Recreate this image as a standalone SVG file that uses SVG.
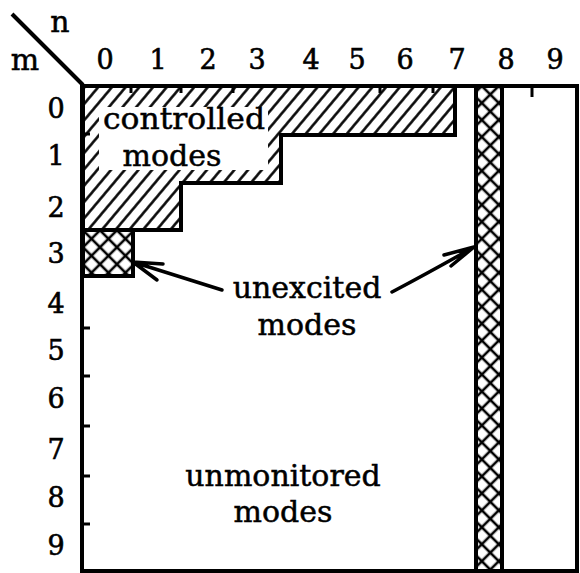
<svg xmlns="http://www.w3.org/2000/svg" width="580" height="573" viewBox="0 0 580 573">
<style>
.lbl{font-family:"DejaVu Serif","Liberation Serif",serif;font-size:30px;fill:#000;stroke:#000;stroke-width:0.5;text-anchor:middle}
.num{font-family:"DejaVu Serif","Liberation Serif",serif;font-size:27px;fill:#000;stroke:#000;stroke-width:0.6;text-anchor:middle}
.ln{stroke:#000;stroke-width:4;fill:none;stroke-linecap:square}
.xh{stroke:#000;stroke-width:4;fill:url(#cross)}
.arw{stroke:#000;stroke-width:3.5;fill:none;stroke-linecap:round}
</style>
<defs>
<pattern id="hatch" width="10.5" height="10.5" patternUnits="userSpaceOnUse" patternTransform="rotate(40)">
<line x1="5.25" y1="0" x2="5.25" y2="10.5" stroke="#000" stroke-width="2.5"/>
</pattern>
<pattern id="cross" width="12" height="12" patternUnits="userSpaceOnUse" patternTransform="translate(83,86) rotate(45)">
<line x1="6" y1="0" x2="6" y2="12" stroke="#000" stroke-width="2.6"/>
<line x1="0" y1="6" x2="12" y2="6" stroke="#000" stroke-width="2.6"/>
</pattern>
</defs>
<rect width="580" height="573" fill="#fff"/>

<g id="axis-labels">
<line x1="12" y1="14" x2="83" y2="85" stroke="#000" stroke-width="4"/>
<text class="lbl" x="60" y="32">n</text>
<text class="lbl" x="25" y="70">m</text>
<text class="num" x="105" y="69">0</text>
<text class="num" x="158" y="69">1</text>
<text class="num" x="208" y="69">2</text>
<text class="num" x="257" y="69">3</text>
<text class="num" x="311" y="69">4</text>
<text class="num" x="357" y="69">5</text>
<text class="num" x="405" y="69">6</text>
<text class="num" x="457" y="69">7</text>
<text class="num" x="506" y="69">8</text>
<text class="num" x="555" y="69">9</text>
<text class="num" x="56" y="118">0</text>
<text class="num" x="56" y="165">1</text>
<text class="num" x="56" y="217">2</text>
<text class="num" x="56" y="263">3</text>
<text class="num" x="56" y="313">4</text>
<text class="num" x="56" y="360">5</text>
<text class="num" x="56" y="408">6</text>
<text class="num" x="56" y="459">7</text>
<text class="num" x="56" y="507">8</text>
<text class="num" x="56" y="555">9</text>
</g>

<g id="controlled-modes">
<path d="M83,86 H455 V135 H281 V183 H181 V230 H83 Z" fill="url(#hatch)"/>
<rect x="99" y="107" width="169" height="63" fill="#fff"/>
<path d="M83,86 H455 V135 H281 V183 H181 V230 H83 Z" class="ln" stroke-linejoin="miter"/>
<text class="lbl" x="184" y="129" textLength="162" lengthAdjust="spacingAndGlyphs">controlled</text>
<text class="lbl" x="172" y="166">modes</text>
</g>

<g id="unexcited-box">
<rect x="83" y="230" width="50" height="46" class="xh"/>
</g>

<g id="unexcited-strip">
<rect x="476" y="86" width="26" height="486" class="xh"/>
</g>

<g id="frame">
<line x1="82" y1="86" x2="577" y2="86" class="ln"/>
<line x1="82" y1="86" x2="82" y2="571" class="ln"/>
<line x1="82" y1="571" x2="577" y2="571" class="ln"/>
<line x1="577" y1="86" x2="577" y2="571" class="ln"/>
<g stroke="#000" stroke-width="3">
<line x1="131" y1="86" x2="131" y2="93"/>
<line x1="181" y1="86" x2="181" y2="93"/>
<line x1="233" y1="86" x2="233" y2="93"/>
<line x1="380" y1="86" x2="380" y2="93"/>
<line x1="433" y1="86" x2="433" y2="93"/>
<line x1="532" y1="86" x2="532" y2="97"/>
<line x1="82" y1="134" x2="90" y2="134"/>
<line x1="82" y1="328" x2="90" y2="328"/>
<line x1="82" y1="376" x2="90" y2="376"/>
<line x1="82" y1="426" x2="90" y2="426"/>
<line x1="82" y1="476" x2="90" y2="476"/>
<line x1="82" y1="524" x2="90" y2="524"/>
</g>
</g>

<g id="unexcited-label">
<text class="lbl" x="307" y="298">unexcited</text>
<text class="lbl" x="307" y="335">modes</text>
</g>

<g id="unmonitored">
<text class="lbl" x="283" y="486">unmonitored</text>
<text class="lbl" x="283" y="522">modes</text>
</g>

<g id="connectors">
<path d="M222,290 L133,262 M133,262 L163,264 M133,262 L157,280" class="arw"/>
<path d="M392,292 Q430,272 474,247 M474,247 L444,255 M474,247 L451,266" class="arw"/>
</g>
</svg>
